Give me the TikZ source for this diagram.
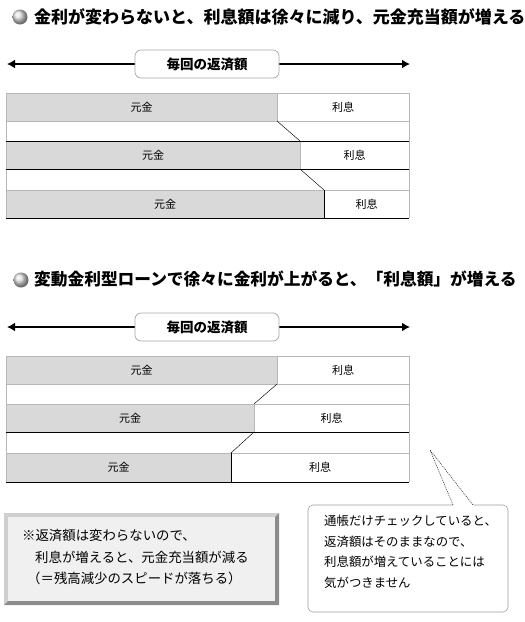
\documentclass[tikz,border=0pt]{standalone}
\usepackage{fontspec}
\setmainfont{Noto Sans CJK JP}
\usetikzlibrary{arrows.meta,shadings}
\definecolor{barfill}{HTML}{D9D9D9}
\definecolor{lightln}{HTML}{B8B8B8}
\definecolor{bevlight}{HTML}{CFCFCF}
\definecolor{bevdark}{HTML}{8C8C8C}
\definecolor{notefill}{HTML}{F0F0F0}
\tikzset{
  titletext/.style={anchor=west, inner sep=0pt, font=\fontsize{17}{20}\selectfont\bfseries},
  barlbl/.style={inner sep=0pt, font=\fontsize{11}{13}\selectfont},
  lblbox/.style={draw=gray!70, fill=white, rounded corners=6pt, line width=0.7pt,
    minimum width=144pt, minimum height=28pt, inner sep=0pt,
    font=\fontsize{13.5}{15}\selectfont\bfseries},
  dblarrow/.style={line width=2.2pt, {Latex[length=8pt,width=9pt]}-{Latex[length=8pt,width=9pt]}},
  lightline/.style={draw=lightln, line width=0.6pt},
  darkline/.style={draw=black, line width=0.9pt},
  diagline/.style={draw=black, line width=0.45pt},
  notetext/.style={anchor=west, inner sep=0pt, font=\fontsize{13.4}{16}\selectfont},
  calltext/.style={anchor=west, inner sep=0pt, font=\fontsize{12.4}{14}\selectfont},
  callline/.style={draw=gray!75, line width=0.6pt},
  tailline/.style={draw=gray!40!black, line width=0.6pt, dash pattern=on 1pt off 1pt},
}
\begin{document}
\begin{tikzpicture}[x=1pt,y=-1pt]
\useasboundingbox (0,0) rectangle (525,622);

% ---------- Section 1 ----------
\shade[ball color=gray!25] (20,17) circle (7.5);
\node[titletext] (t1) at (34,17) {金利が変わらないと、利息額は徐々に減り、元金充当額が増える};

\coordinate (a1l) at (7,64);
\coordinate (a1r) at (410,64);
\draw[dblarrow] (a1l) -- (a1r);
\node[lblbox] (b1) at (207,64) {毎回の返済額};

\fill[barfill] (6,93) rectangle (277,121);
\fill[barfill] (6,141) rectangle (300,169);
\fill[barfill] (6,190) rectangle (324,218);
\draw[lightline] (6,93) -- (409,93) (6,121) -- (409,121) (6,190) -- (409,190)
  (6,93) -- (6,218) (409,93) -- (409,218) (277,93) -- (277,121) (300,141) -- (300,169);
\draw[darkline] (6,141) -- (409,141) (6,169) -- (409,169) (6,218) -- (409,218) (324,190) -- (324,218);
\draw[diagline] (277,121) -- (300,141) (300,169) -- (324,190);

\node[barlbl] (g1a) at (141.5,107) {元金};
\node[barlbl] (r1a) at (343,107) {利息};
\node[barlbl] (g1b) at (153,155) {元金};
\node[barlbl] (r1b) at (354.5,155) {利息};
\node[barlbl] (g1c) at (165,204) {元金};
\node[barlbl] (r1c) at (366.5,204) {利息};

% ---------- Section 2 ----------
\shade[ball color=gray!25] (21,280) circle (7.5);
\node[titletext, font=\fontsize{16.7}{20}\selectfont\bfseries] (t2) at (34,279) {変動金利型ローンで徐々に金利が上がると、「利息額」が増える};

\coordinate (a2l) at (7,327);
\coordinate (a2r) at (410,327);
\draw[dblarrow] (a2l) -- (a2r);
\node[lblbox] (b2) at (207,327) {毎回の返済額};

\fill[barfill] (6,356) rectangle (277,384);
\fill[barfill] (6,404) rectangle (254,432);
\fill[barfill] (6,453) rectangle (231,482);
\draw[lightline] (6,356) -- (409,356) (6,384) -- (409,384) (6,404) -- (409,404) (6,453) -- (409,453)
  (6,356) -- (6,482) (409,356) -- (409,482) (277,356) -- (277,384) (254,404) -- (254,432);
\draw[darkline] (6,432) -- (409,432) (6,482) -- (409,482) (231,453) -- (231,482);
\draw[diagline] (277,384) -- (254,404) (254,432) -- (231,453);

\node[barlbl] (g2a) at (141.5,370) {元金};
\node[barlbl] (r2a) at (343,370) {利息};
\node[barlbl] (g2b) at (130,418) {元金};
\node[barlbl] (r2b) at (331.5,418) {利息};
\node[barlbl] (g2c) at (118.5,467.5) {元金};
\node[barlbl] (r2c) at (320,467.5) {利息};

% ---------- Note box ----------
\fill[bevlight] (4,513) -- (279,513) -- (275,517) -- (8,517) -- (8,601) -- (4,605) -- cycle;
\fill[bevdark] (279,513) -- (279,605) -- (4,605) -- (8,601) -- (275,601) -- (275,517) -- cycle;
\fill[notefill] (8,517) rectangle (275,601);
\node[notetext] (n1) at (22,535) {※返済額は変わらないので、};
\node[notetext] (n2) at (35,557) {利息が増えると、元金充当額が減る};
\node[notetext] (n3) at (27,578) {（＝残高減少のスピードが落ちる）};

% ---------- Callout ----------
\draw[callline, rounded corners=5pt] (308,505) rectangle (508,612);
\coordinate (tb1) at (453,505);
\coordinate (tb2) at (473,505);
\coordinate (tip) at (430,450);
\draw[white, line width=1.6pt] (tb1) -- (tb2);
\draw[tailline] (tb1) -- (tip) -- (tb2);
\node[calltext] (c1) at (324,521) {通帳だけチェックしていると、};
\node[calltext] (c2) at (324,541.5) {返済額はそのままなので、};
\node[calltext] (c3) at (324,562) {利息額が増えていることには};
\node[calltext] (c4) at (324,582.5) {気がつきません};
\end{tikzpicture}
\end{document}
